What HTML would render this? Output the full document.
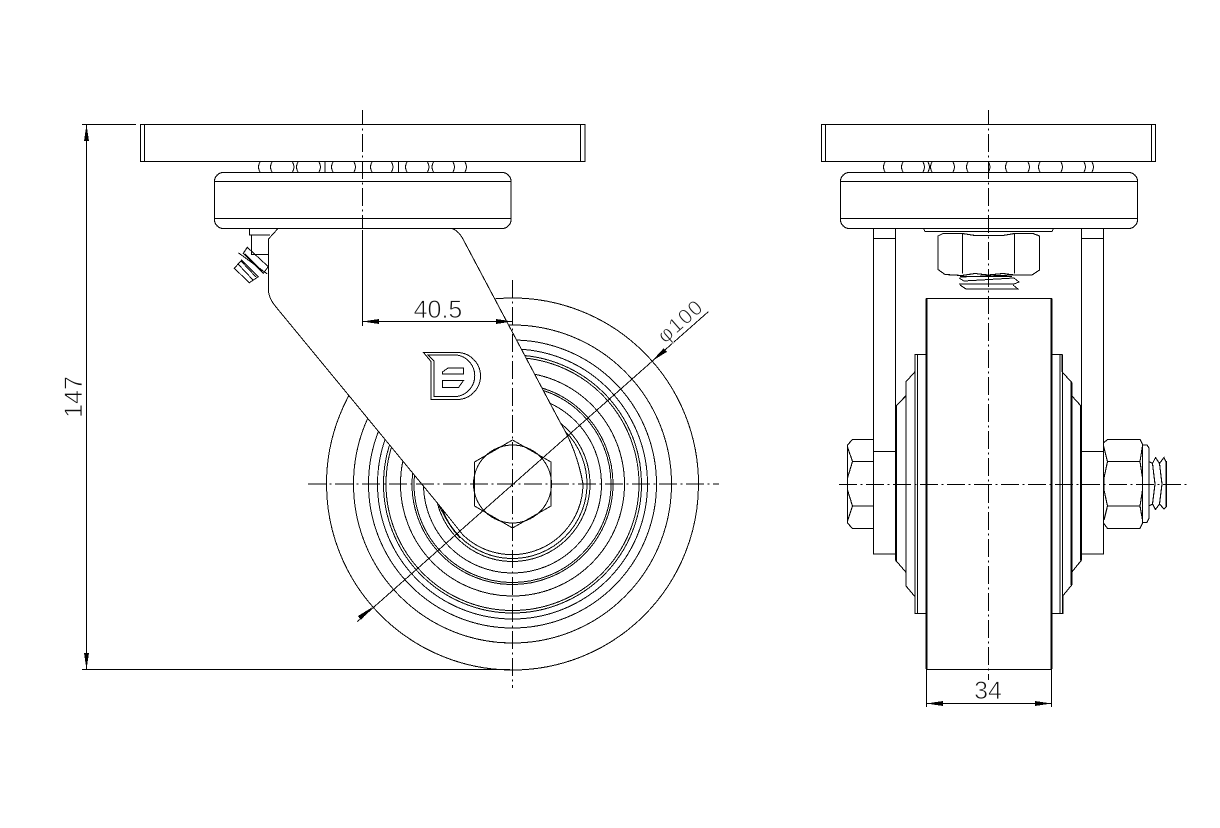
<!DOCTYPE html>
<html><head><meta charset="utf-8"><style>
html,body{margin:0;padding:0;background:#fff;width:1220px;height:828px;overflow:hidden}
svg{display:block;shape-rendering:crispEdges}
.l{fill:none;stroke:#000;stroke-width:1}
.b{fill:none;stroke:#000;stroke-width:1.1}
.t{fill:none;stroke:#000;stroke-width:2}
.c{fill:none;stroke:#000;stroke-width:1;stroke-dasharray:18 3.5 2 3.5}
.a{fill:#000;stroke:none}
text{font-family:"Liberation Sans",sans-serif;fill:#111;stroke:#fff;stroke-width:.7}
</style></head><body>
<svg width="1220" height="828" viewBox="0 0 1220 828" xmlns="http://www.w3.org/2000/svg">
<rect width="1220" height="828" fill="#fff"/>

<!-- LEFT VIEW: wheel -->
<g class="l">
<circle cx="512.5" cy="484" r="186"/><circle cx="512.5" cy="484" r="159"/><circle cx="512.5" cy="484" r="144"/>
<circle cx="512.5" cy="484" r="135"/><circle cx="512.5" cy="484" r="129"/><circle cx="512.5" cy="484" r="126.5"/>
<circle cx="512.5" cy="484" r="112"/><circle cx="512.5" cy="484" r="100.5"/><circle cx="512.5" cy="484" r="98.5"/>
<circle cx="512.5" cy="484" r="89"/><circle cx="512.5" cy="484" r="77.5"/><circle cx="512.5" cy="484" r="74.5"/>
</g>
<!-- fork -->
<path d="M268.5 239 L278 228.5 L452 228.5 Q459 231 463.5 240 L560 422 Q577 450 583 484 A71 71 0 0 1 463 535 L439 505 L276 307 Q268.5 298 268.5 290 Z" fill="#fff" stroke="#000" stroke-width="1"/>
<path class="l" d="M439 505 Q448 525 460 538"/>
<!-- plate -->
<g class="b">
<rect x="140.5" y="124.5" width="444.5" height="37"/><path d="M144.5 124.5V161.5M580.5 124.5V161.5"/>
<rect x="214.5" y="172.5" width="296.5" height="56" rx="9"/><path d="M214.5 181.5H511M214.5 218.5H511"/>
</g>
<!-- balls left -->
<path class="l" d="M260 162Q257 167 260 172M272 162Q269 167 272 172M292.5 162Q295.5 167 292.5 172M298 162Q295 167 298 172M319 162Q322 167 319 172M325 162V172M333 162Q330 167 333 172M354 162Q357 167 354 172M372 162Q369 167 372 172M391.5 162Q394.5 167 391.5 172M398.5 162V172M407 162Q404 167 407 172M427.5 162Q430.5 167 427.5 172M433.5 162Q430.5 167 433.5 172M453 162Q456 167 453 172M465 162Q468 167 465 172"/>
<!-- nipple -->
<path class="b" d="M249.5 228.5V235H270M251.5 235V255M251.5 254.5H268"/>
<path class="l" d="M234.3 268.3L241.7 260L258.3 276.7L249.3 282.7ZM243.3 253.3L247.3 247.3L268.3 266.7L263.3 273.3ZM238.3 252.7L267.3 274M238 264L253 280M241 261L256 277M245 254L262 271"/>
<!-- logo -->
<path class="l" d="M423.5 352.5H457A23.5 23.5 0 0 1 457 399.5H431V361.5ZM428 355H457A21 21 0 0 1 457 396.5H434V361Z"/>
<path class="l" d="M442.5 372L448 368H463.5V374H442.5ZM442.5 380.5H463.5L458.5 387.5H442.5Z"/>
<!-- hex bolt -->
<path class="l" d="M512.5 440L551 462V506L512.5 528L474.5 506V462Z"/>
<circle class="l" cx="512.5" cy="484" r="39"/>

<!-- center lines left -->
<path class="c" d="M362.5 110V228" stroke-dashoffset="3"/>
<path class="l" d="M362.5 230V326"/>
<path class="c" d="M512.5 280V688"/>
<path class="c" d="M308 484H719"/>

<!-- dim 40.5 -->
<path class="l" d="M362.5 321.5H512.5"/>
<path class="a" d="M362.5 321.5L379 319V324ZM512.5 321.5L496 319V324Z"/>
<text x="438" y="318" font-size="25" text-anchor="middle">40.5</text>
<!-- dim dia -->
<path class="l" d="M357.3 621.7L708.3 311.7"/>
<path class="a" d="M652 361L663.7 348.2L666.9 351.9ZM372.7 607L361 619.8L357.8 616.1Z"/>
<text transform="translate(665 344) rotate(-41.4)" font-size="21" textLength="52" lengthAdjust="spacing">φ100</text>
<!-- dim 147 -->
<path class="l" d="M82 124.5H136M82 669.5H510M86.5 124.5V669.5"/>
<path class="a" d="M86.5 124.5L84 141H89ZM86.5 669.5L84 653H89Z"/>
<text transform="translate(82 397) rotate(-90)" font-size="25" text-anchor="middle">147</text>

<!-- RIGHT VIEW -->
<g class="b">
<rect x="821.5" y="124.5" width="334" height="37"/><path d="M825.5 124.5V161.5M1151.5 124.5V161.5"/>
<rect x="840.5" y="172.5" width="297" height="56" rx="9"/><path d="M840.5 181.5H1137.5M840.5 218.5H1137.5"/>
<path d="M873.5 228.5V554H895.5V228.5M873.5 238.5H895.5M873.5 451.5H895.5"/>
<path d="M1081.5 228.5V554H1103.5V228.5M1081.5 238.5H1103.5M1081.5 451.5H1103.5"/>
<path d="M923.5 228.5L925 231.5H1052L1053.5 228.5"/>
<path d="M943 233.5L938 236V269.5L945 274.5L962 275.5L975 273.5L988 275L1003 273.5L1014.5 275L1032 275L1039.5 270V236L1033 233.5H1014.5L1003 235.5H975L962.5 233.5ZM962.5 233.5V273.5M1014.5 233.5V273.5"/>
<rect x="926.5" y="298.5" width="125" height="371"/>
</g>
<path class="l" d="M885 162Q882 167 885 172M903 162Q900 167 903 172M923 162Q926 167 923 172M928 162Q931 167 928 172M932 162Q929 167 932 172M953 162Q956 167 953 172M968 162Q965 167 968 172M988.5 162Q991.5 167 988.5 172M1007 162Q1004 167 1007 172M1028 162Q1031 167 1028 172M1040 162Q1037 167 1040 172M1061 162Q1064 167 1061 172M1084 162Q1087 167 1084 172M1092 162Q1095 167 1092 172"/>
<!-- threads top -->
<path class="l" d="M960 277L1014 275M959 278L964 281L1014 278L1019 282L1014 284L959 284M960 285L966 289H1018L1013 285"/>
<path class="t" d="M960 276.5H1012M966 289H1000M976 284H996" style="stroke-width:1.4"/>
<!-- wheel thick sides -->
<path class="t" d="M926.5 298.5V669M1051.5 298.5V669"/>
<!-- left hub -->
<path class="b" d="M926 354.5H915V371.7L906 381.7V395.7L896 406V560.7L906 572.3V586L915 596.7V613.5H926M915 354.5V613.5M917.5 354.5V613.5M906 381.7V586"/>
<path class="t" d="M896 406V560.7"/>
<!-- left nut -->
<path class="b" d="M873.5 439.5H852.5L847.5 445V523L852.5 528.5H873.5M873.5 461.5H852.5M873.5 506H852.5M847.5 447L852.5 461.5L847.5 478V490L852.5 506L847.5 521"/>
<!-- right hub -->
<path class="b" d="M1051 354.5H1062V371.7L1071.7 382.5V395.7L1081 406V560.7L1071.7 572.3V585L1062.7 596V613.5H1051M1060 354.5V613.5M1062.5 354.5V613.5"/>
<path class="t" d="M1071.7 382.5V585M1081 406V560.7"/>
<!-- right nut & thread -->
<path class="b" d="M1103.5 443L1107.5 439.5H1140L1142.5 444V523L1140 528.5H1107.5L1103.5 523ZM1107.5 461.5H1140M1107.5 506H1140M1103.5 446L1107.5 461.5L1104 478V490L1107.5 506L1104 520M1142.5 446L1140 461.5L1142.5 478V490L1140 506L1142.5 520"/>
<path class="b" d="M1142.5 445H1147L1149 448V518L1147 522.5H1142.5"/>
<path class="b" d="M1149 461.5L1152.5 463.5L1155.5 457.5L1159.5 463.5L1164 457.5L1166 462V507L1164 509L1159.5 504L1155.5 509.5L1152.5 504L1149 506M1152.5 463.5L1155 484L1152.5 504M1159.5 463.5L1162 484L1159.5 504"/>
<path class="t" d="M1166 461V507" style="stroke-width:1.5"/>

<!-- center lines right -->
<path class="c" d="M988.5 110V680" stroke-dashoffset="3"/>
<path class="c" d="M839 484.5H1188"/>

<!-- dim 34 -->
<path class="l" d="M926.5 669V707M1051.5 669V707M926.5 703.5H1051.5"/>
<path class="a" d="M926.5 703.5L943 701V706ZM1051.5 703.5L1035 701V706Z"/>
<text x="988" y="699" font-size="25" text-anchor="middle">34</text>
</svg>
</body></html>
